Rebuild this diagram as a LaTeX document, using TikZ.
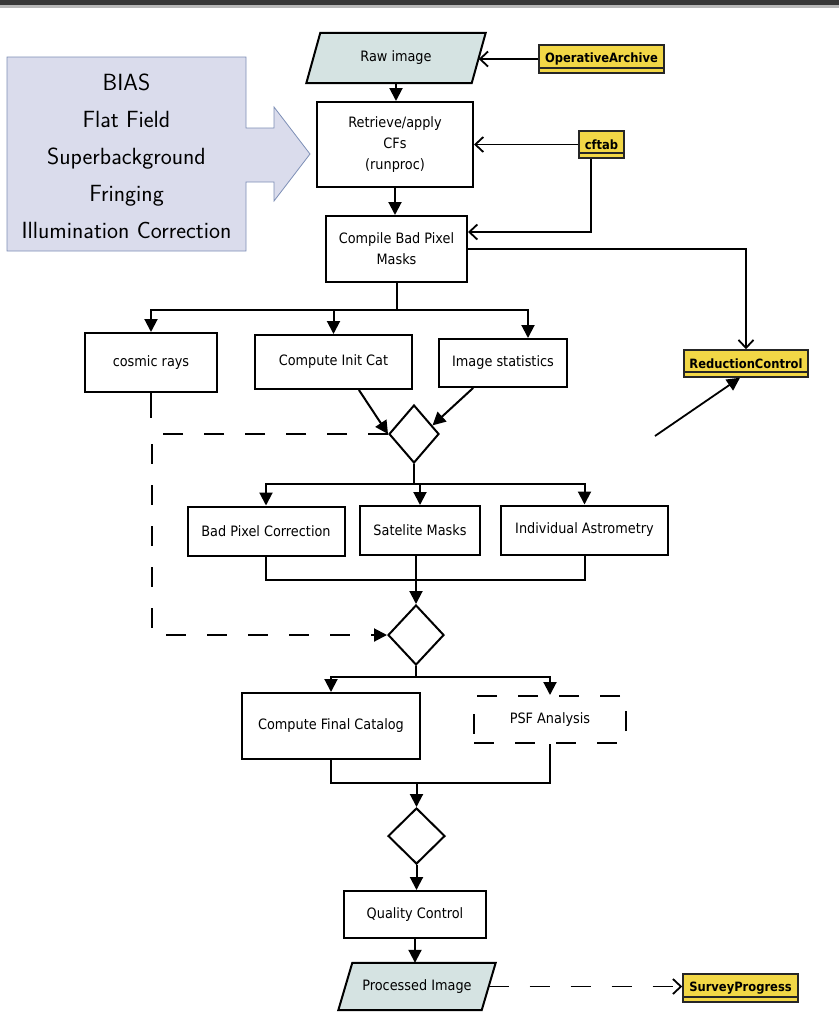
\documentclass[tikz,border=0pt]{standalone}
\usepackage{fontspec}
\newfontfamily\flowfont{DejaVu Sans Condensed}
\usetikzlibrary{arrows.meta,calc,shapes.geometric,backgrounds}

\definecolor{iofill}{RGB}{213,227,226}
\definecolor{tagfill}{RGB}{242,215,70}
\definecolor{notefill}{RGB}{218,220,236}
\definecolor{noteline}{RGB}{125,143,182}

\begin{document}
\begin{tikzpicture}[x=1pt,y=-1pt,
	>={Triangle[length=13pt,width=13pt]},
	every node/.style={font=\flowfont\fontsize{14.3}{21}\selectfont, align=center, inner sep=0pt},
	task/.style={draw, line width=2pt, fill=white},
	iobox/.style={minimum width=165, minimum height=50},
	tag/.style={draw=black!85, fill=tagfill, line width=1.5pt,
		font=\flowfont\bfseries\fontsize{12.8}{13}\selectfont,
		path picture={\draw[line width=1.2pt] ([yshift=5pt]path picture bounding box.south west) -- ([yshift=5pt]path picture bounding box.south east);}},
	decision/.style={diamond, draw, line width=2pt, minimum width=50, minimum height=58},
	flow/.style={line width=2pt},
	feed/.style={line width=1.8pt, -{Straight Barb[length=8pt,width=15pt]}},
	dashline/.style={line width=2pt, dash pattern=on 20pt off 21pt}]
	\useasboundingbox (0,0) rectangle (839,1013);
	\fill[black!78] (0,0) rectangle (839,5);
	\fill[black!28] (0,5) rectangle (839,8);

	% calibration frames
	\draw[fill=notefill, draw=noteline, line width=0.8pt] (7,57) -- (246,57) -- (246,128) -- (274,128) -- (274,107) -- (310,154) -- (274,201) -- (274,182) -- (246,182) -- (246,251) -- (7,251) -- cycle;
	\node[font=\sffamily\fontsize{23.4}{37}\selectfont] (calib) at (126.5,156.5) {BIAS\\Flat Field\\Superbackground\\Fringing\\Illumination Correction};

	\node[iobox] (raw) at (396,58) {Raw image};
	\node[task, minimum width=156, minimum height=85] (retr) at (395,144.5) {Retrieve/apply\\CFs\\(runproc)};
	\node[task, minimum width=141, minimum height=66] (comp) at (396.5,249) {Compile Bad Pixel\\Masks};

	\node[tag, minimum width=125, minimum height=28] (oparch) at (601.5,59) {OperativeArchive};
	\node[tag, minimum width=45, minimum height=27] (cftab) at (601.5,144.5) {cftab};
	\node[tag, minimum width=124, minimum height=27] (redctrl) at (746,363.5) {ReductionControl};

	\node[task, minimum width=132, minimum height=59] (cosmic) at (151,362.5) {cosmic rays};
	\node[task, minimum width=157, minimum height=54] (initcat) at (333.5,362) {Compute Init Cat};
	\node[task, minimum width=128, minimum height=48] (imstat) at (503,363) {Image statistics};
	\node[decision] (d1) at (414,434) {};

	\node[task, minimum width=157, minimum height=49] (badpix) at (266,531) {Bad Pixel Correction};
	\node[task, minimum width=120, minimum height=49] (satmask) at (420,530.5) {Satelite Masks};
	\node[task, minimum width=167, minimum height=49] (indast) at (584.5,530) {Individual Astrometry};
	\node[decision, minimum width=56, minimum height=60] (d2) at (416,635) {};

	\node[task, minimum width=178, minimum height=66] (fincat) at (331,726) {Compute Final Catalog};
	\node[task, dash pattern=on 20pt off 21pt, minimum width=152, minimum height=47] (psf) at (550,719.5) {PSF Analysis};
	\node[decision, minimum width=57, minimum height=56] (d3) at (416.5,836) {};
	\node[task, minimum width=142, minimum height=47] (qc) at (415,914.5) {Quality Control};
	\node[iobox, minimum width=143, minimum height=47] (outimg) at (417,986.5) {Processed Image};
	\node[tag, minimum width=115, minimum height=28] (survey) at (740.5,988) {SurveyProgress};

	\begin{scope}[on background layer]
		\foreach \n in {raw,outimg}
			\draw[fill=iofill, line width=2pt] ($(\n.north west)+(7,0)$) -- ($(\n.north east)+(7,0)$) -- ($(\n.south east)+(-7,0)$) -- ($(\n.south west)+(-7,0)$) -- cycle;
	\end{scope}

	% archive inputs
	\draw[feed] (oparch.west) -- (oparch.west -| raw.east);
	\draw[feed] (cftab.west) -- (cftab.west -| retr.east);
	\coordinate (cfdrop) at (591,232);
	\draw[feed] (cftab.south -| cfdrop) |- (cfdrop -| comp.east);
	\draw[feed] (comp.east) -| (redctrl.north);
	\coordinate (rcfoot) at (655,436);
	\draw[->, line width=1.8pt] (rcfoot) -- ($(redctrl.south)+(-6,0)$);

	\draw[->, flow] (raw.south) -- (raw.south |- retr.north);
	\draw[->, flow] (retr.south) -- (retr.south |- comp.north);

	\coordinate (split1) at ($(comp.south)+(0,27)$);
	\draw[flow] (comp.south) -- (split1);
	\draw[->, flow] (split1) -| (cosmic.north);
	\draw[->, flow] (split1) -| (initcat.north);
	\draw[->, flow] (split1) -| ($(imstat.north)+(25,0)$);
	\draw[flow] (cosmic.south) -- ++(0,25);
	\draw[->, flow] ($(initcat.south west)!0.66!(initcat.south east)$) -- (d1.west);
	\draw[->, flow] ($(imstat.south west)!0.27!(imstat.south east)$) -- (d1.25);

	% feedback loop
	\coordinate (loopx) at (152,0);
	\draw[->, dashline] (d1.west) -| (loopx |- d2.west) -- (d2.west);

	\coordinate (split2) at ($(d1.south)+(0,20)$);
	\draw[flow] (d1.south) -- (split2);
	\draw[->, flow] (split2) -| (badpix.north);
	\draw[->, flow] (split2) -| (satmask.north);
	\draw[->, flow] (split2) -| (indast.north);
	\coordinate (merge1) at ($(satmask.south)+(0,24)$);
	\draw[flow] (badpix.south) |- (merge1) -| (indast.south);
	\draw[->, flow] (satmask.south -| d2.north) -- (d2.north);

	\coordinate (split3) at ($(d2.south)+(0,11)$);
	\draw[flow] (d2.south) -- (split3);
	\draw[->, flow] (split3) -| (fincat.north);
	\draw[->, flow] (split3) -| (psf.north);
	\coordinate (merge2) at ($(d3.north)+(0,-24)$);
	\draw[flow] (fincat.south) |- (merge2) -| (psf.south);
	\draw[->, flow] (merge2) -- (d3.north);

	\draw[->, flow] (d3.south) -- (d3.south |- qc.north);
	\draw[->, flow] (qc.south) -- (qc.south |- outimg.north);
	\draw[feed, dash pattern=on 20pt off 21pt] (outimg.east) -- (outimg.east -| survey.west);
\end{tikzpicture}
\end{document}
